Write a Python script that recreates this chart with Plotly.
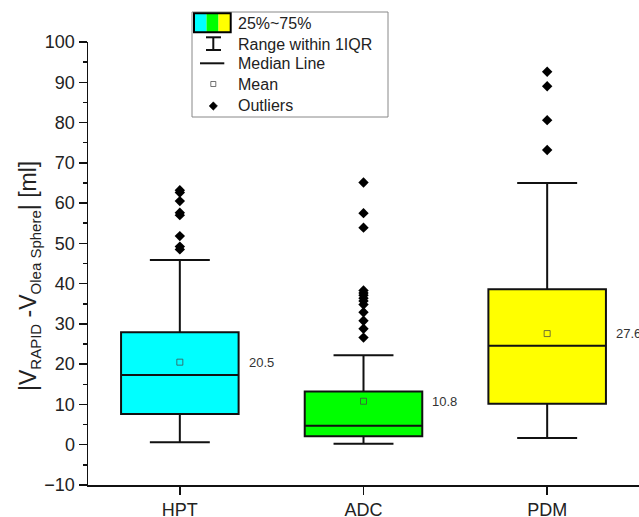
import plotly.graph_objects as go

# ---- data ----
categories = ["HPT", "ADC", "PDM"]
q1 = [7.6, 2.1, 10.2]
median = [17.3, 4.7, 24.6]
q3 = [27.9, 13.2, 38.6]
lower_whisker = [0.6, 0.25, 1.7]
upper_whisker = [45.9, 22.2, 65.0]
means = [20.5, 10.8, 27.6]
outliers_hpt = [63.2, 62.6, 60.5, 57.6, 57.0, 51.8, 49.2, 48.5]
outliers_adc = [65.1, 57.5, 53.9, 38.3, 37.7, 37.1, 36.4, 35.7, 34.8, 32.9, 30.8, 28.8, 26.6]
outliers_pdm = [92.6, 89.0, 80.6, 73.2]
outliers = [outliers_hpt, outliers_adc, outliers_pdm]
box_colors = ["#00FFFF", "#00FF00", "#FFFF00"]
y_ticks = list(range(-10, 101, 10))

# ---- layout geometry ----
W, H = 639, 517
ML, MR, MT, MB = 88, 0, 42, 32
PW, PH = W - ML - MR, H - MT - MB
BOX_W = 0.64
FONT = "Liberation Sans, Arial, sans-serif"


def fx(px):
    return (px - ML) / PW


def fy(py):
    return (H - MB - py) / PH


fig = go.Figure()

for i, cat in enumerate(categories):
    fig.add_trace(go.Box(
        x=[i], q1=[q1[i]], median=[median[i]], q3=[q3[i]],
        lowerfence=[lower_whisker[i]], upperfence=[upper_whisker[i]],
        width=BOX_W, whiskerwidth=0.51, fillcolor=box_colors[i],
        line=dict(color="#111111", width=2), boxpoints=False,
        showlegend=False, hoverinfo="skip",
    ))
    fig.add_trace(go.Scatter(
        x=[i] * len(outliers[i]), y=outliers[i], mode="markers",
        marker=dict(symbol="diamond", size=8, color="#000000"),
        showlegend=False,
    ))
    fig.add_trace(go.Scatter(
        x=[i], y=[means[i]], mode="markers",
        marker=dict(symbol="square-open", size=6, color="rgba(70,70,70,0.75)",
                    line=dict(width=1)),
        showlegend=False,
    ))
    fig.add_annotation(
        x=i + BOX_W / 2, y=means[i], text=f"{means[i]:.1f}", showarrow=False,
        xanchor="left", yanchor="middle", xshift=8,
        font=dict(size=13, color="#333333", family=FONT),
    )

# ---- custom legend ----
shapes = []
shapes.append(dict(type="rect", xref="paper", yref="paper",
                   x0=fx(192), x1=fx(388), y0=fy(117), y1=fy(12),
                   line=dict(color="#888888", width=1), fillcolor="white", layer="above"))
seg = [(194, 206.5), (206.5, 218.5), (218.5, 230.7)]
for (a, b), c in zip(seg, box_colors):
    shapes.append(dict(type="rect", xref="paper", yref="paper",
                       x0=fx(a), x1=fx(b), y0=fy(32.3), y1=fy(13.3),
                       line=dict(width=0), fillcolor=c, layer="above"))
shapes.append(dict(type="rect", xref="paper", yref="paper",
                   x0=fx(194), x1=fx(230.7), y0=fy(32.3), y1=fy(13.3),
                   line=dict(color="#000000", width=2), fillcolor="rgba(0,0,0,0)", layer="above"))
# I-beam
shapes.append(dict(type="line", xref="paper", yref="paper", x0=fx(213.3), x1=fx(213.3),
                   y0=fy(37.3), y1=fy(50), line=dict(color="#111", width=2), layer="above"))
shapes.append(dict(type="line", xref="paper", yref="paper", x0=fx(206), x1=fx(221),
                   y0=fy(37.3), y1=fy(37.3), line=dict(color="#111", width=2), layer="above"))
shapes.append(dict(type="line", xref="paper", yref="paper", x0=fx(206), x1=fx(221),
                   y0=fy(50), y1=fy(50), line=dict(color="#111", width=2), layer="above"))
# median line
shapes.append(dict(type="line", xref="paper", yref="paper", x0=fx(200), x1=fx(224.3),
                   y0=fy(63.3), y1=fy(63.3), line=dict(color="#111", width=2), layer="above"))
# mean square
shapes.append(dict(type="rect", xref="paper", yref="paper", x0=fx(210.8), x1=fx(215.8),
                   y0=fy(86.5), y1=fy(81.5), line=dict(color="rgba(70,70,70,0.75)", width=1),
                   fillcolor="rgba(0,0,0,0)", layer="above"))
# diamond
cx, cy, r = fx(213.3), fy(106), 4.2
path = (f"M {cx - r / PW} {cy} L {cx} {cy + r / PH} L {cx + r / PW} {cy} "
        f"L {cx} {cy - r / PH} Z")
shapes.append(dict(type="path", xref="paper", yref="paper", path=path,
                   line=dict(color="#000", width=0.5), fillcolor="#000", layer="above"))

legend_labels = ["25%~75%", "Range within 1IQR", "Median Line", "Mean", "Outliers"]
legend_y = [23.3, 44.3, 63.5, 84, 105.8]
for lab, py in zip(legend_labels, legend_y):
    fig.add_annotation(xref="paper", yref="paper", x=fx(236), y=fy(py), text=lab,
                       showarrow=False, xanchor="left", yanchor="middle",
                       font=dict(size=16, color="#222222", family=FONT))

# ---- y axis title (as rotated annotation for exact placement) ----
sub = "<sub><span style='font-size:15px'>{}</span></sub>"
y_title = "|V" + sub.format("RAPID") + " -V" + sub.format("Olea Sphere") + "| [ml]"
fig.add_annotation(xref="paper", yref="paper", x=fx(29), y=fy(276), text=y_title,
                   textangle=-90, showarrow=False, xanchor="center", yanchor="middle",
                   font=dict(size=23, color="#222222", family=FONT))

fig.update_layout(
    width=W, height=H,
    margin=dict(l=ML, r=MR, t=MT, b=MB, autoexpand=False),
    plot_bgcolor="white", paper_bgcolor="white",
    font=dict(family=FONT, color="#222222"),
    shapes=shapes,
    showlegend=False,
    hovermode=False,
    xaxis=dict(range=[-0.5, 2.5], tickmode="array", tickvals=[0, 1, 2], ticktext=categories,
               ticks="outside", ticklen=8, tickwidth=1.5, tickcolor="#111",
               showline=True, linecolor="#111", linewidth=1.5, showgrid=False,
               zeroline=False, tickfont=dict(size=18, color="#222", family=FONT)),
    yaxis=dict(range=[-10, 100], tickmode="array", tickvals=y_ticks,
               ticks="outside", ticklen=8, tickwidth=1.5, tickcolor="#111",
               minor=dict(dtick=5, tick0=0, ticks="outside", ticklen=4, tickwidth=1.5, tickcolor="#111"),
               showline=True, linecolor="#111", linewidth=1.5, showgrid=False,
               zeroline=False, tickfont=dict(size=18, color="#222", family=FONT)),
)

fig.write_html("out.html", config={"displayModeBar": False, "staticPlot": True},
               post_script="document.body.style.margin='0';document.body.style.overflow='hidden';")
